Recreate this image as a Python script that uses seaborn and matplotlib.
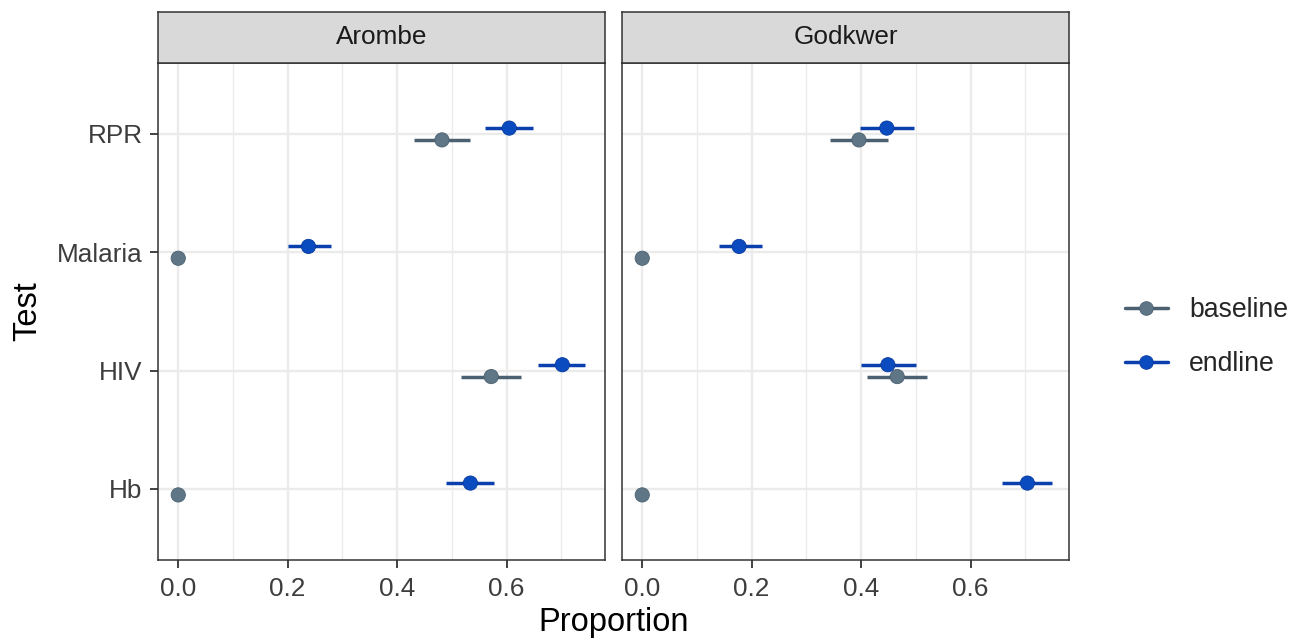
import numpy as np
import pandas as pd
import matplotlib
matplotlib.use("Agg")
import matplotlib.pyplot as plt
import seaborn as sns
from matplotlib.lines import Line2D

# data
sites = ["Arombe", "Godkwer"]
tests = ["Hb", "HIV", "Malaria", "RPR"]          # bottom -> top
groups = ["baseline", "endline"]

# estimates / lower / upper per site, group, test (Hb, HIV, Malaria, RPR)
arombe_baseline = [0.0, 0.572, 0.0, 0.482]
arombe_baseline_lo = [0.0, 0.517, 0.0, 0.431]
arombe_baseline_hi = [0.0, 0.626, 0.0, 0.534]
arombe_endline = [0.534, 0.702, 0.238, 0.605]
arombe_endline_lo = [0.489, 0.658, 0.201, 0.561]
arombe_endline_hi = [0.578, 0.744, 0.279, 0.648]

godkwer_baseline = [0.0, 0.466, 0.0, 0.396]
godkwer_baseline_lo = [0.0, 0.410, 0.0, 0.344]
godkwer_baseline_hi = [0.0, 0.521, 0.0, 0.450]
godkwer_endline = [0.704, 0.449, 0.177, 0.447]
godkwer_endline_lo = [0.657, 0.400, 0.140, 0.398]
godkwer_endline_hi = [0.749, 0.500, 0.218, 0.497]

rows = []
for site, g, est, lo, hi in [
    ("Arombe", "baseline", arombe_baseline, arombe_baseline_lo, arombe_baseline_hi),
    ("Arombe", "endline", arombe_endline, arombe_endline_lo, arombe_endline_hi),
    ("Godkwer", "baseline", godkwer_baseline, godkwer_baseline_lo, godkwer_baseline_hi),
    ("Godkwer", "endline", godkwer_endline, godkwer_endline_lo, godkwer_endline_hi),
]:
    for t, e, l, h in zip(tests, est, lo, hi):
        rows.append(dict(site=site, group=g, test=t, prop=e, lo=l, hi=h))
df = pd.DataFrame(rows)

# vertical dodge like position_dodge(width = 0.1)
dodge = {"baseline": -0.05, "endline": 0.05}
df["ypos"] = df["test"].map({t: i + 1 for i, t in enumerate(tests)}) + df["group"].map(dodge)

pt_col = {"baseline": "#5F7687", "endline": "#0A4CC0"}
bar_col = {"baseline": "#4B6070", "endline": "#0A3FAE"}
edge_col = {"baseline": "#4B6070", "endline": "#083A9E"}

sns.set_theme(style="white")
plt.rcParams["font.family"] = ["Liberation Sans", "DejaVu Sans"]

fig = plt.figure(figsize=(13.01, 6.40), dpi=100)
W, H = 1301, 640
panels = [(158, 605), (622, 1069)]
top, bottom = 63, 560
strip_top = 12
txt = 18.8

for k, (site, (x0, x1)) in enumerate(zip(sites, panels)):
    ax = fig.add_axes([x0 / W, 1 - bottom / H, (x1 - x0) / W, (bottom - top) / H])
    sub = df[df["site"] == site]

    # grid
    for v in [0.1, 0.3, 0.5, 0.7]:
        ax.axvline(v, color="#EBEBEB", lw=1.0, zorder=0)
    for v in [0.0, 0.2, 0.4, 0.6]:
        ax.axvline(v, color="#EBEBEB", lw=1.7, zorder=0)
    for v in range(1, 5):
        ax.axhline(v, color="#EBEBEB", lw=1.7, zorder=0)

    for g in groups:
        s = sub[sub["group"] == g]
        ax.hlines(s["ypos"], s["lo"], s["hi"], color=bar_col[g], lw=2.5, zorder=2)
    sns.scatterplot(data=sub, x="prop", y="ypos", hue="group", palette=pt_col,
                    s=105, edgecolor=[edge_col[g] for g in sub["group"]],
                    linewidth=0.6, ax=ax, legend=False, zorder=3)

    ax.set_xlim(-0.037, 0.78)
    ax.set_ylim(0.4, 4.6)
    ax.set_xticks([0.0, 0.2, 0.4, 0.6])
    ax.set_xticklabels(["0.0", "0.2", "0.4", "0.6"], fontsize=txt, color="#3D3D3D")
    ax.set_yticks([1, 2, 3, 4])
    if k == 0:
        ax.set_yticklabels(tests, fontsize=txt, color="#3D3D3D")
    else:
        ax.set_yticklabels([])
    ax.tick_params(axis="x", length=6, width=1.3, color="#333333", pad=6, bottom=True)
    ax.tick_params(axis="y", length=6, width=1.3, color="#333333", pad=5, left=True)
    if k == 1:
        ax.tick_params(axis="y", length=0)
    ax.set_xlabel("")
    ax.set_ylabel("")
    for sp in ax.spines.values():
        sp.set_color("#333333")
        sp.set_linewidth(1.1)

    # facet strip
    sax = fig.add_axes([x0 / W, 1 - top / H, (x1 - x0) / W, (top - strip_top) / H])
    sax.set_xticks([])
    sax.set_yticks([])
    sax.set_facecolor("#D9D9D9")
    for sp in sax.spines.values():
        sp.set_color("#333333")
        sp.set_linewidth(1.1)
    sax.text(0.5, 0.5, site, ha="center", va="center", fontsize=txt, color="#1A1A1A",
             transform=sax.transAxes)

fig.text((158 + 1069) / 2 / W, 1 - 623 / H, "Proportion", ha="center", va="center",
         fontsize=23.5, color="black")
fig.text(28 / W, 1 - 311 / H, "Test", ha="center", va="center", rotation=90,
         fontsize=23.5, color="black")

handles = [Line2D([0], [0], color=bar_col[g], lw=2.5, marker="o", markersize=9.8,
                  markerfacecolor=pt_col[g], markeredgecolor=edge_col[g],
                  markeredgewidth=0.6) for g in groups]
fig.legend(handles, groups, loc="center left", bbox_to_anchor=(1125 / W, 1 - 337 / H),
           frameon=False, fontsize=19.2, handlelength=1.6, handletextpad=0.8,
           labelspacing=1.05, borderpad=0, borderaxespad=0)

fig.savefig("out.png", dpi=100)
